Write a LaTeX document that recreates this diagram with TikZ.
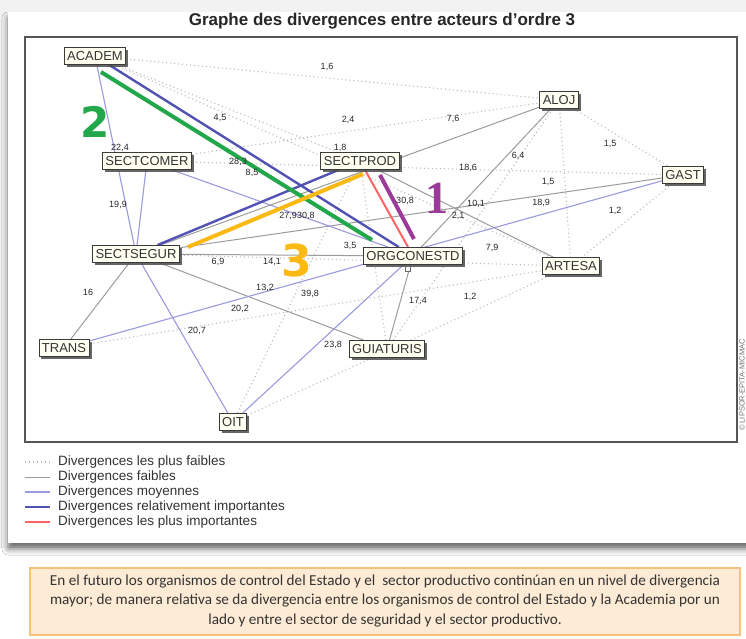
\documentclass[tikz,border=0pt]{standalone}
\usepackage{fontspec}
\setmainfont{Liberation Sans}
\newfontfamily\capfont{Carlito}
\newfontfamily\bignum{DejaVu Sans}
\newfontfamily\bigserif{Liberation Serif}
\usetikzlibrary{shadows,shadows.blur}
\definecolor{bggray}{HTML}{F2F2F2}
\definecolor{framegray}{HTML}{555555}
\definecolor{nodefill}{HTML}{FFFFF2}
\definecolor{nodeborder}{HTML}{3A3A3A}
\definecolor{textdark}{HTML}{333333}
\definecolor{dotgray}{HTML}{BDBDBD}
\definecolor{faible}{HTML}{9C9C9C}
\definecolor{moyen}{HTML}{9A9ADE}
\definecolor{relimp}{HTML}{5252B4}
\definecolor{plusimp}{HTML}{FF6464}
\definecolor{hlgreen}{HTML}{22A84A}
\definecolor{hlyellow}{HTML}{FBB914}
\definecolor{hlpurple}{HTML}{9C3A9A}
\definecolor{capfill}{HTML}{FDEBD5}
\definecolor{capborder}{HTML}{F5C27C}
\pgfdeclarelayer{back}
\pgfdeclarelayer{edges}
\pgfsetlayers{back,edges,main}
\tikzset{
  actor/.style={draw=nodeborder, line width=0.9pt, fill=nodefill, text=textdark,
    font=\fontsize{13}{13}\selectfont, inner xsep=3pt, inner ysep=0pt,
    minimum height=17pt, text height=9.5pt, text depth=0pt,
    drop shadow={shadow xshift=2.5pt, shadow yshift=-2.5pt, fill=black!70, opacity=0.85}},
  val/.style={font=\fontsize{9}{9}\selectfont, text=black!85, inner sep=0pt, text height=6.5pt, text depth=0pt},
  bigdigit/.style={inner sep=0pt, text height=31pt, text depth=0pt},
  dotl/.style={draw=dotgray, line width=1.1pt, dash pattern=on 1.1pt off 2.9pt},
  faiblel/.style={draw=faible, line width=1pt},
  moyenl/.style={draw=moyen, line width=1.1pt},
  relimpl/.style={draw=relimp, line width=2.4pt},
  plusimpl/.style={draw=plusimp, line width=2pt},
  hlline/.style={line width=4pt},
  legtext/.style={anchor=west, font=\fontsize{13.5}{13.5}\selectfont, text=textdark, inner sep=0pt},
}
\begin{document}
\begin{tikzpicture}[x=1pt,y=-1pt]
\useasboundingbox (0,0) rectangle (746,639);
% background card
\begin{pgfonlayer}{back}
\fill[white] (0,0) rectangle (746,639);
\fill[bggray] (0,0) rectangle (746,548);
\fill[white, blur shadow={shadow xshift=0pt, shadow yshift=-6pt, shadow blur radius=6pt, shadow opacity=55}] (8,12) rectangle (770,543);
\draw[framegray, line width=1.2pt] (25,37) rectangle (737,442);
\end{pgfonlayer}
\node[font=\bfseries\fontsize{17}{17}\selectfont, text=black!85] (title) at (382,21) {Graphe des divergences entre acteurs d'ordre 3};
\node[rotate=90, font=\fontsize{7.5}{7.5}\selectfont, text=black!55, inner sep=0pt] (copy) at (742,385) {© LIPSOR-EPITA-MICMAC};
% actors
\node[actor] (ACADEM) at (95,56) {ACADEM};
\node[actor] (SECTCOMER) at (147,161) {SECTCOMER};
\node[actor] (SECTPROD) at (360,161) {SECTPROD};
\node[actor] (ALOJ) at (559,100) {ALOJ};
\node[actor] (GAST) at (683,175) {GAST};
\node[actor] (SECTSEGUR) at (136,254) {SECTSEGUR};
\node[actor] (ORGCONESTD) at (413,256) {ORGCONESTD};
\node[actor] (ARTESA) at (571,266) {ARTESA};
\node[actor] (TRANS) at (64,348) {TRANS};
\node[actor] (GUIATURIS) at (387,349) {GUIATURIS};
\node[actor] (OIT) at (233,422) {OIT};
\node[draw=black!60, fill=white, minimum size=5pt, inner sep=0pt, line width=0.6pt] (mark) at (408,269) {};
% connectors
\begin{pgfonlayer}{edges}
\draw[dotl] (ACADEM) -- (ALOJ);
\draw[dotl] (ACADEM) -- (SECTPROD);
\draw[dotl] (ACADEM) -- (ARTESA);
\draw[dotl] (SECTCOMER) -- (ALOJ);
\draw[dotl] (SECTCOMER) -- (GAST);
\draw[dotl] (ALOJ) -- (GAST);
\draw[dotl] (ALOJ) -- (ARTESA);
\draw[dotl] (ALOJ) -- (GUIATURIS);
\draw[dotl] (GAST) -- (ARTESA);
\draw[dotl] (SECTSEGUR) -- (ARTESA);
\draw[dotl] (TRANS) -- (ARTESA);
\draw[dotl] (OIT) -- (SECTPROD);
\draw[dotl] (OIT) -- (ARTESA);
\draw[dotl] (GUIATURIS) -- (SECTPROD);
\draw[faiblel] (ALOJ) -- (SECTSEGUR);
\draw[faiblel] (ALOJ) -- (ORGCONESTD);
\draw[faiblel] (SECTPROD) -- (ARTESA);
\draw[faiblel] (SECTSEGUR) -- (GAST);
\draw[faiblel] (SECTSEGUR) -- (ORGCONESTD);
\draw[faiblel] (SECTSEGUR) -- (GUIATURIS);
\draw[faiblel] (SECTSEGUR) -- (TRANS);
\draw[faiblel] (ORGCONESTD) -- (GUIATURIS);
\draw[moyenl] (ACADEM) -- (SECTSEGUR);
\draw[moyenl] (SECTCOMER) -- (SECTSEGUR);
\draw[moyenl] (SECTCOMER) -- (ORGCONESTD);
\draw[moyenl] (SECTSEGUR) -- (OIT);
\draw[moyenl] (ORGCONESTD) -- (OIT);
\draw[moyenl] (TRANS) -- (GAST);
\draw[relimpl] (ACADEM) -- (ORGCONESTD);
\draw[relimpl] (SECTSEGUR) -- (SECTPROD);
\draw[plusimpl] (SECTPROD) -- (ORGCONESTD);
% hand-drawn highlights
\coordinate (g1) at (101,72); \coordinate (g2) at (372,240);
\coordinate (y1) at (188,247); \coordinate (y2) at (363,174);
\coordinate (p1) at (380,175); \coordinate (p2) at (414,239);
\draw[hlline, hlgreen] (g1) -- (g2);
\draw[hlline, hlyellow] (y1) -- (y2);
\draw[hlline, hlpurple] (p1) -- (p2);
\end{pgfonlayer}
% big numbers
\node[bigdigit, font=\bignum\bfseries\fontsize{42}{42}\selectfont, text=hlgreen] (n2) at (95,122) {2};
\node[bigdigit, font=\bigserif\bfseries\fontsize{46}{46}\selectfont, text=hlpurple] (n1) at (437,198) {1};
\node[bigdigit, font=\bignum\bfseries\fontsize{44}{44}\selectfont, text=hlyellow] (n3) at (297,261) {3};
% values
\node[val] (v1) at (327,66) {1,6};
\node[val] (v2) at (220,117) {4,5};
\node[val] (v3) at (348,119) {2,4};
\node[val] (v4) at (453,118) {7,6};
\node[val] (v5) at (610,143) {1,5};
\node[val] (v6) at (120,147) {22,4};
\node[val] (v7) at (238,161) {28,3};
\node[val] (v8) at (252,172) {8,5};
\node[val] (v9) at (340,147) {1,8};
\node[val] (v10) at (468,167) {18,6};
\node[val] (v11) at (518,155) {6,4};
\node[val] (v12) at (548,181) {1,5};
\node[val] (v13) at (541,202) {18,9};
\node[val] (v14) at (476,203) {10,1};
\node[val] (v15) at (458,215) {2,1};
\node[val] (v16) at (615,210) {1,2};
\node[val] (v17) at (118,204) {19,9};
\node[val, anchor=east] (v18) at (297,215) {27,9};
\node[val, anchor=west] (v19) at (297,215) {30,8};
\node[val] (v20) at (405,200) {30,8};
\node[val] (v22) at (350,245) {3,5};
\node[val] (v23) at (218,261) {6,9};
\node[val] (v24) at (272,261) {14,1};
\node[val] (v25) at (492,247) {7,9};
\node[val] (v26) at (88,292) {16};
\node[val] (v27) at (265,287) {13,2};
\node[val] (v28) at (310,293) {39,8};
\node[val] (v30) at (240,308) {20,2};
\node[val] (v31) at (197,330) {20,7};
\node[val] (v32) at (418,300) {17,4};
\node[val] (v33) at (470,296) {1,2};
\node[val] (v34) at (333,344) {23,8};
% legend
\coordinate (l1a) at (25,462); \coordinate (l1b) at (50,462);
\coordinate (l2a) at (25,477); \coordinate (l2b) at (50,477);
\coordinate (l3a) at (25,492); \coordinate (l3b) at (50,492);
\coordinate (l4a) at (25,507); \coordinate (l4b) at (50,507);
\coordinate (l5a) at (25,522); \coordinate (l5b) at (50,522);
\draw[dotl] (l1a) -- (l1b);
\draw[faiblel] (l2a) -- (l2b);
\draw[moyenl] (l3a) -- (l3b);
\draw[draw=relimp, line width=2pt] (l4a) -- (l4b);
\draw[plusimpl] (l5a) -- (l5b);
\node[legtext] (t1) at (58,462) {Divergences les plus faibles};
\node[legtext] (t2) at (58,477) {Divergences faibles};
\node[legtext] (t3) at (58,492) {Divergences moyennes};
\node[legtext] (t4) at (58,507) {Divergences relativement importantes};
\node[legtext] (t5) at (58,522) {Divergences les plus importantes};
% caption
\draw[fill=capfill, draw=capborder, line width=1.2pt] (30,568) rectangle (740,635);
\node[font=\capfont\fontsize{15.2}{19.5}\selectfont, text=textdark, align=center, inner sep=0pt] (caption) at (385,601)
{En el futuro los organismos de control del Estado y el \ sector productivo continúan en un nivel de divergencia\\
mayor; de manera relativa se da divergencia entre los organismos de control del Estado y la Academia por un\\
lado y entre el sector de seguridad y el sector productivo.};
\end{tikzpicture}
\end{document}
